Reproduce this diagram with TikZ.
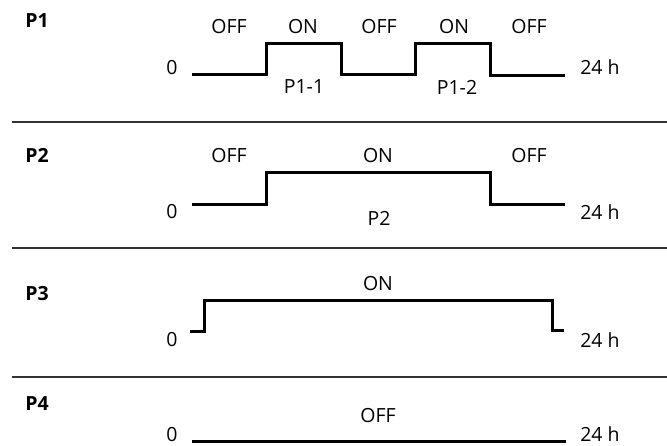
\documentclass[tikz,border=0pt]{standalone}
\usepackage{fontspec}
\setmainfont{Open Sans}
\begin{document}
\begin{tikzpicture}[x=1pt,y=-1pt,
  lbl/.style={inner sep=0pt,anchor=center,font=\fontsize{19.5}{23}\selectfont},
  plbl/.style={inner sep=0pt,anchor=center,font=\fontsize{19.5}{23}\selectfont\bfseries},
  wave/.style={line width=3pt,line join=miter,line cap=butt,black},
  sep/.style={line width=1.5pt,color=black!80}]
\useasboundingbox[fill=white] (0,0) rectangle (667,445);
% separators
\draw[sep] (12,122) -- (667,122);
\draw[sep] (12,248) -- (667,248);
\draw[sep] (12,377) -- (667,377);
% P1
\node[plbl] (p1) at (37,21) {P1};
\node[lbl] (p1a) at (229,27) {OFF};
\node[lbl] (p1b) at (303,27) {ON};
\node[lbl] (p1c) at (379,27) {OFF};
\node[lbl] (p1d) at (454,27) {ON};
\node[lbl] (p1e) at (529,27) {OFF};
\node[lbl] (p1z) at (172,68) {0};
\node[lbl] (p1h) at (600,67) {24 h};
\node[lbl] (p11) at (304,87) {P1-1};
\node[lbl] (p12) at (457,87) {P1-2};
\draw[wave] (192,74.5) -- (266,74.5) -- (266,43) -- (341,43) -- (341,74.5) -- (415,74.5) -- (415,43) -- (490,43) -- (490,75.5) -- (565,75.5);
% P2
\node[plbl] (p2) at (37,155) {P2};
\node[lbl] (p2a) at (229,156) {OFF};
\node[lbl] (p2b) at (378,156) {ON};
\node[lbl] (p2c) at (529,156) {OFF};
\node[lbl] (p2z) at (172,212) {0};
\node[lbl] (p2h) at (600,212) {24 h};
\node[lbl] (p2p) at (379,218) {P2};
\draw[wave] (192,204) -- (266,204) -- (266,172) -- (490,172) -- (490,204.5) -- (565,204.5);
% P3
\node[plbl] (p3) at (37,294) {P3};
\node[lbl] (p3a) at (378,284) {ON};
\node[lbl] (p3z) at (172,340) {0};
\node[lbl] (p3h) at (600,340) {24 h};
\draw[wave] (190,331) -- (204,331) -- (204,300) -- (552,300) -- (552,330.5) -- (564,330.5);
% P4
\node[plbl] (p4) at (37,404) {P4};
\node[lbl] (p4a) at (378,416) {OFF};
\node[lbl] (p4z) at (172,434.5) {0};
\node[lbl] (p4h) at (600,434) {24 h};
\draw[wave] (192,441) -- (566,441);
\end{tikzpicture}
\end{document}
